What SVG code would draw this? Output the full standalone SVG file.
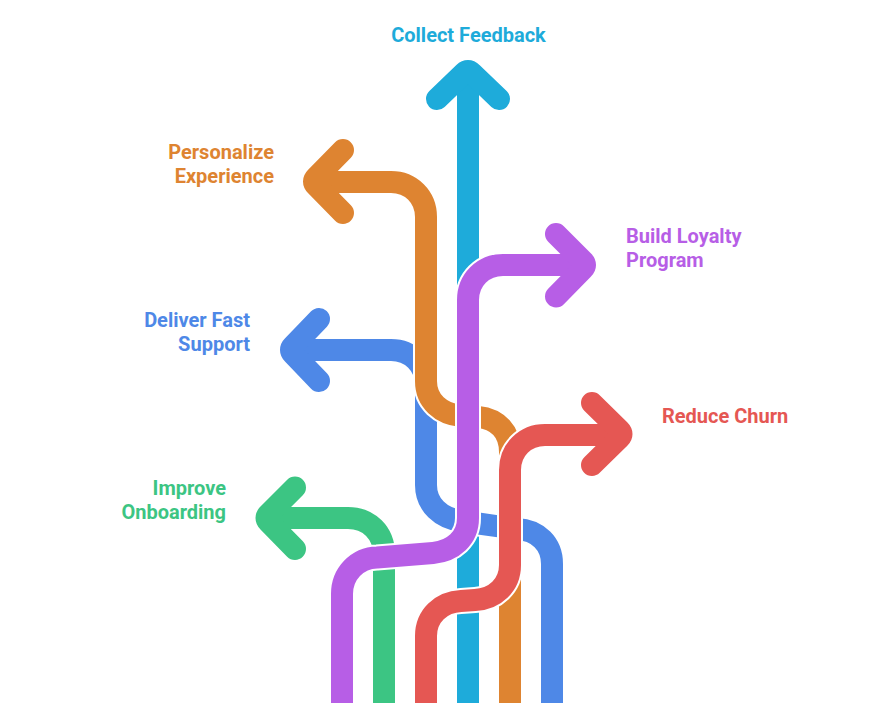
<svg xmlns="http://www.w3.org/2000/svg" width="888" height="703" viewBox="0 0 888 703">
<style>
text{font-family:Roboto,"Liberation Sans",sans-serif;font-weight:700;font-size:20px}
.e{text-anchor:end}.m{text-anchor:middle}
path{fill:none;stroke-linecap:butt;stroke-linejoin:round}
.h{stroke:#fff;stroke-width:26}
.s{stroke-width:22}
.a{stroke-width:22;stroke-linecap:round}
.cy{stroke:#1eabda}.gr{stroke:#3cc583}.bl{stroke:#4e88e7}.or{stroke:#de8431}.re{stroke:#e55753}.pu{stroke:#b75ee6}
</style>
<rect width="888" height="703" fill="#fff"/>
<g id="connectors">
<path class="s cy" d="M468 703V75"/>
<path class="a cy" d="M437 99L464 73Q468 69 472 73L499 99"/>
<path class="h" d="M384 703V554C384 533 369 518 348 518H275"/>
<path class="s gr" d="M384 703V554C384 533 369 518 348 518H275"/>
<path class="a gr" d="M295 487.500L268.500 514Q264.500 518 268.500 522L295 549"/>
<path class="h" d="M552 703V564C552 544 538 530 517 529L461 521C441 518 426 505 426 485V385C426 365 411 350 391 350H298"/>
<path class="s bl" d="M552 703V564C552 544 538 530 517 529L461 521C441 518 426 505 426 485V385C426 365 411 350 391 350H298"/>
<path class="a bl" d="M319 319L293 346Q289 350 293 354L319 381"/>
<path class="h" d="M510 703V452C510 432 498 419 478 417L461 416C441 414 426 401 426 381V217C426 197 411 182 391 182H320"/>
<path class="s or" d="M510 703V452C510 432 498 419 478 417L461 416C441 414 426 401 426 381V217C426 197 411 182 391 182H320"/>
<path class="a or" d="M343 150L316 177.500Q312 181.500 316 185.500L343 213"/>
<path class="h" d="M426 703V636C426 616 441 602 461 601L475 600C495 599 510 585 510 565V470C510 450 525 435 545 435H616"/>
<path class="s re" d="M426 703V636C426 616 441 602 461 601L475 600C495 599 510 585 510 565V470C510 450 525 435 545 435H616"/>
<path class="a re" d="M592 403L619.500 430Q623.500 434 619.500 438L592 465"/>
<path class="h" d="M342 703V594C342 574 357 558 377 557.500L433 553C453 551 468 538 468 518V300C468 280 483 265 503 265H579"/>
<path class="s pu" d="M342 703V594C342 574 357 558 377 557.500L433 553C453 551 468 538 468 518V300C468 280 483 265 503 265H579"/>
<path class="a pu" d="M556 234L583 261Q587 265 583 269L556 296.500"/>
</g>
<g id="collect-feedback"><text class="m" x="468.500" y="42" fill="#1eabda">Collect Feedback</text></g>
<g id="personalize-experience"><text class="e" x="274" y="159" fill="#de8431">Personalize</text><text class="e" x="274" y="183" fill="#de8431">Experience</text></g>
<g id="build-loyalty-program"><text x="626" y="243" fill="#b75ee6">Build Loyalty</text><text x="626" y="267" fill="#b75ee6">Program</text></g>
<g id="deliver-fast-support"><text class="e" x="250" y="327" fill="#4e88e7">Deliver Fast</text><text class="e" x="250" y="351" fill="#4e88e7">Support</text></g>
<g id="reduce-churn"><text x="662" y="423" fill="#e55753">Reduce Churn</text></g>
<g id="improve-onboarding"><text class="e" x="226" y="495" fill="#3cc583">Improve</text><text class="e" x="226" y="519" fill="#3cc583">Onboarding</text></g>
</svg>
